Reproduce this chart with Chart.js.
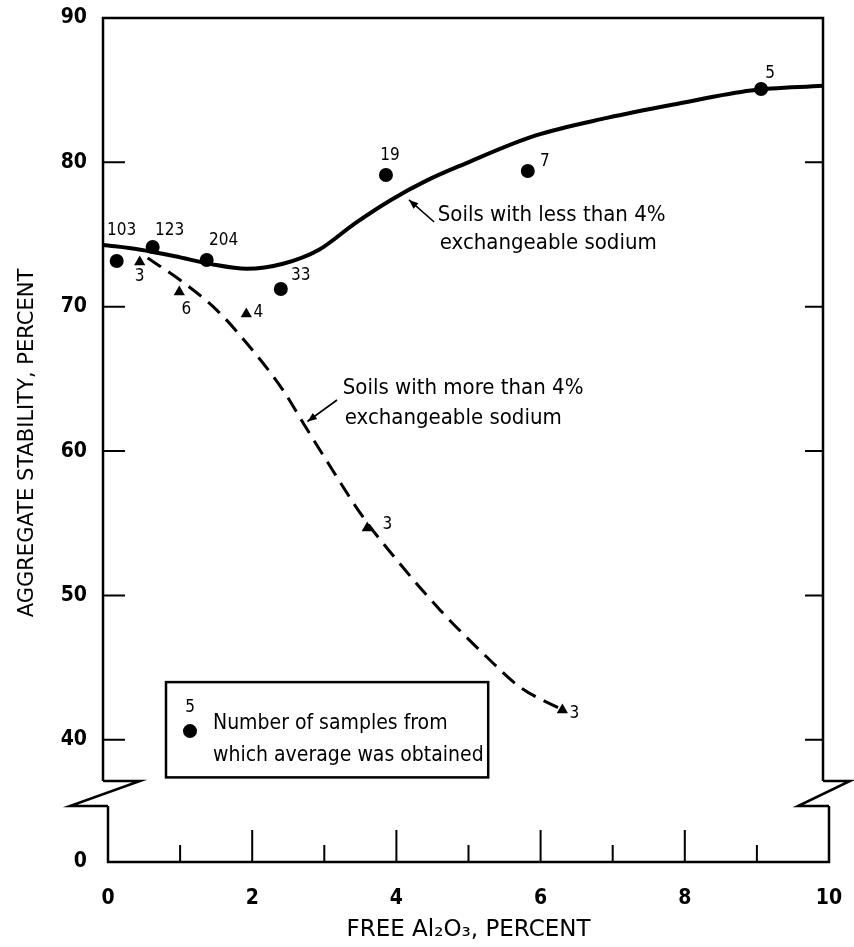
<!DOCTYPE html>
<html><head><meta charset="utf-8">
<script src="https://cdn.jsdelivr.net/npm/chart.js@4.4.1/dist/chart.umd.min.js"></script>
<style>
html,body{margin:0;padding:0;background:#fff;}
#wrap{position:relative;width:854px;height:947px;overflow:hidden;background:#fff;}
#top{position:absolute;left:0;top:0;}
#bot{position:absolute;left:0;top:790px;}
</style></head><body>
<div id="wrap">
<canvas id="top" width="854" height="820"></canvas>
<canvas id="bot" width="854" height="157"></canvas>
</div>
<script>
// ---- data ----
const lowNaX = [0.19, 0.69, 1.44, 2.47, 3.93, 5.9, 9.14];
const lowNaY = [73.17, 74.14, 73.24, 71.23, 79.13, 79.4, 85.08];
const lowNaN = [103, 123, 204, 33, 19, 7, 5];
const highNaX = [0.51, 1.06, 1.99, 3.67, 6.38];
const highNaY = [73.1, 71.02, 69.5, 54.67, 42.07];
const highNaN = [3, 6, 4, 3, 3];
const lowCurveX = [0, 0.5, 1, 1.5, 2, 2.5, 3, 3.5, 4, 4.5, 5, 6, 7, 8, 9, 10];
const lowCurveY = [74.28, 73.97, 73.5, 72.95, 72.63, 72.98, 73.95, 75.78, 77.4, 78.75, 79.85, 81.85, 83.08, 84.08, 84.98, 85.3];
const highCurveX = [0.62, 1.07, 1.58, 2.04, 2.5, 2.78, 3.06, 3.61, 4.08, 4.68, 5.33, 5.79, 6.38];
const highCurveY = [73.38, 71.85, 69.77, 67.21, 64.23, 61.95, 59.7, 55.44, 52.46, 49.0, 45.74, 43.66, 42.07];
const yTicks = [40, 50, 60, 70, 80, 90];
const xTicks = [0, 2, 4, 6, 8, 10];
const xMinorTicks = [1, 3, 5, 7, 9];
const xMajorInner = [2, 4, 6, 8];
const lowerYTicks = [0];
const yRange = [37.15, 90];
const xRange = [0, 10];

// ---- styles / label placement (pixel offsets from marker) ----
const lowLabelOff = [[5,-30],[17,-16],[17,-19],[20,-13],[4,-19],[17,-9],[9,-15]];
const highLabelOff = [[0,15],[7,18],[12,-1],[20,-3],[12,4]];
const COND = 'DejaVu Sans Condensed';
const pts = (xs, ys) => xs.map((x, i) => ({x, y: ys[i]}));
const noPad = s => { s.paddingTop = 0; s.paddingBottom = 0; s.paddingLeft = 0; s.paddingRight = 0; };

function arrow(ctx, x1, y1, x2, y2) {
  ctx.beginPath(); ctx.moveTo(x1, y1); ctx.lineTo(x2, y2); ctx.lineWidth = 1.6; ctx.stroke();
  const ang = Math.atan2(y2 - y1, x2 - x1), L = 10, W = 0.38;
  ctx.beginPath();
  ctx.moveTo(x2, y2);
  ctx.lineTo(x2 - L * Math.cos(ang - W), y2 - L * Math.sin(ang - W));
  ctx.lineTo(x2 - L * Math.cos(ang + W), y2 - L * Math.sin(ang + W));
  ctx.closePath(); ctx.fill();
}

const topDecor = {
  id: 'topDecor',
  afterDraw(chart) {
    const {ctx, chartArea: a, scales: {x, y}} = chart;
    ctx.save();
    ctx.strokeStyle = '#000'; ctx.fillStyle = '#000';
    ctx.lineWidth = 2.5; ctx.lineJoin = 'miter';
    // frame
    ctx.beginPath();
    ctx.moveTo(a.left, a.bottom); ctx.lineTo(a.left, a.top);
    ctx.lineTo(a.right, a.top); ctx.lineTo(a.right, a.bottom);
    ctx.stroke();
    // inward ticks
    ctx.beginPath();
    yTicks.filter(v => v < 90).forEach(v => {
      const py = y.getPixelForValue(v);
      ctx.moveTo(a.left, py); ctx.lineTo(a.left + 22, py);
      ctx.moveTo(a.right, py); ctx.lineTo(a.right - 18, py);
    });
    ctx.lineWidth = 2; ctx.stroke();
    // axis break zigzags
    ctx.lineWidth = 2.5;
    ctx.beginPath();
    ctx.moveTo(a.left, a.bottom); ctx.lineTo(a.left + 37, a.bottom);
    ctx.lineTo(a.left - 33, a.bottom + 25); ctx.lineTo(a.left + 5, a.bottom + 25);
    ctx.moveTo(a.right, a.bottom); ctx.lineTo(a.right + 27, a.bottom);
    ctx.lineTo(a.right - 25, a.bottom + 25); ctx.lineTo(a.right + 6, a.bottom + 25);
    ctx.stroke();
    // sample counts
    ctx.font = '17px "' + COND + '"';
    ctx.textAlign = 'center'; ctx.textBaseline = 'middle';
    chart.getDatasetMeta(0).data.forEach((el, i) => {
      ctx.fillText(String(lowNaN[i]), el.x + lowLabelOff[i][0], el.y + lowLabelOff[i][1]);
    });
    chart.getDatasetMeta(1).data.forEach((el, i) => {
      ctx.fillText(String(highNaN[i]), el.x + highLabelOff[i][0], el.y + highLabelOff[i][1]);
    });
    // curve annotations
    ctx.font = '22px "' + COND + '"';
    ctx.textAlign = 'left';
    const t1x = x.getPixelForValue(4.65), t1y = y.getPixelForValue(76.35);
    ctx.fillText('Soils with less than 4%', t1x, t1y);
    ctx.fillText('exchangeable sodium', t1x + 2, t1y + 28);
    arrow(ctx, x.getPixelForValue(4.6), y.getPixelForValue(75.87), x.getPixelForValue(4.25), y.getPixelForValue(77.4));
    const t2x = x.getPixelForValue(3.33), t2y = y.getPixelForValue(64.37);
    ctx.fillText('Soils with more than 4%', t2x, t2y);
    ctx.fillText('exchangeable sodium', t2x + 2, t2y + 30);
    arrow(ctx, x.getPixelForValue(3.25), y.getPixelForValue(63.54), x.getPixelForValue(2.84), y.getPixelForValue(62.05));
    // key box
    const bx1 = x.getPixelForValue(0.875), bx2 = x.getPixelForValue(5.35);
    const by1 = y.getPixelForValue(44.0), by2 = y.getPixelForValue(37.4);
    ctx.lineWidth = 2.5;
    ctx.strokeRect(bx1, by1, bx2 - bx1, by2 - by1);
    ctx.beginPath(); ctx.arc(bx1 + 24, by1 + 49, 7, 0, Math.PI * 2); ctx.fill();
    ctx.font = '17px "' + COND + '"'; ctx.textAlign = 'center';
    ctx.fillText('5', bx1 + 24, by1 + 25);
    ctx.font = '21px "' + COND + '"'; ctx.textAlign = 'left';
    ctx.fillText('Number of samples from', bx1 + 47, by1 + 41);
    ctx.fillText('which average was obtained', bx1 + 47, by1 + 73);
    // y axis title
    ctx.save();
    ctx.translate(28, 443); ctx.rotate(-Math.PI / 2);
    ctx.font = '21px "DejaVu Sans"'; ctx.textAlign = 'center'; ctx.textBaseline = 'middle';
    ctx.fillText('AGGREGATE STABILITY, PERCENT', 0, 0);
    ctx.restore();
    ctx.restore();
  }
};

const tickFont = {family: COND, size: 21, weight: 'bold'};

new Chart(document.getElementById('top'), {
  type: 'scatter',
  data: {
    datasets: [
      {label: 'Less than 4% (points)', data: pts(lowNaX, lowNaY), pointStyle: 'circle', pointRadius: 7,
       backgroundColor: '#000', borderColor: '#000', borderWidth: 0},
      {label: 'More than 4% (points)', data: pts(highNaX, highNaY), pointStyle: 'triangle', pointRadius: 6.5,
       backgroundColor: '#000', borderColor: '#000', borderWidth: 0},
      {label: 'Soils with less than 4% exchangeable sodium', data: pts(lowCurveX, lowCurveY), showLine: true,
       pointRadius: 0, borderColor: '#000', borderWidth: 4, cubicInterpolationMode: 'monotone', fill: false},
      {label: 'Soils with more than 4% exchangeable sodium', data: pts(highCurveX, highCurveY), showLine: true,
       pointRadius: 0, borderColor: '#000', borderWidth: 3, borderDash: [16, 9], cubicInterpolationMode: 'monotone', fill: false}
    ]
  },
  options: {
    responsive: false, animation: false, devicePixelRatio: 1,
    layout: {padding: {left: 0, right: 31, top: 18, bottom: 39}},
    plugins: {legend: {display: false}, tooltip: {enabled: false}},
    scales: {
      x: {type: 'linear', min: xRange[0], max: xRange[1], display: false},
      y: {type: 'linear', min: yRange[0], max: yRange[1],
          afterFit(s) { s.width = 103; noPad(s); },
          afterBuildTicks(s) { s.ticks = yTicks.map(v => ({value: v})); },
          grid: {display: false, drawTicks: false}, border: {display: false},
          ticks: {padding: 16, color: '#000', font: tickFont}}
    }
  },
  plugins: [topDecor]
});

const botDecor = {
  id: 'botDecor',
  afterDraw(chart) {
    const {ctx, chartArea: a, scales: {x}} = chart;
    ctx.save();
    ctx.strokeStyle = '#000'; ctx.lineWidth = 2.5;
    ctx.beginPath();
    ctx.moveTo(a.left, a.top); ctx.lineTo(a.left, a.bottom);
    ctx.lineTo(a.right, a.bottom); ctx.lineTo(a.right, a.top);
    ctx.stroke();
    ctx.lineWidth = 2;
    ctx.beginPath();
    xMajorInner.forEach(v => { const px = x.getPixelForValue(v); ctx.moveTo(px, a.bottom); ctx.lineTo(px, a.bottom - 32); });
    xMinorTicks.forEach(v => { const px = x.getPixelForValue(v); ctx.moveTo(px, a.bottom); ctx.lineTo(px, a.bottom - 17); });
    ctx.stroke();
    ctx.restore();
  }
};

new Chart(document.getElementById('bot'), {
  type: 'scatter',
  data: {datasets: [{label: 'axis', data: [], pointRadius: 0}]},
  options: {
    responsive: false, animation: false, devicePixelRatio: 1,
    layout: {padding: {left: 0, right: 25, top: 16, bottom: 0}},
    plugins: {legend: {display: false}, tooltip: {enabled: false}},
    scales: {
      x: {type: 'linear', min: xRange[0], max: xRange[1],
          afterFit(s) { s.height = 85; noPad(s); },
          afterBuildTicks(s) { s.ticks = xTicks.map(v => ({value: v})); },
          grid: {display: false, drawTicks: false}, border: {display: false},
          ticks: {padding: 24, color: '#000', font: tickFont, maxRotation: 0},
          title: {display: true, text: 'FREE Al₂O₃, PERCENT', color: '#000',
                  font: {family: 'DejaVu Sans', size: 23}, padding: {top: 0, bottom: 3}}},
      y: {type: 'linear', min: 0, max: 1,
          afterFit(s) { s.width = 108; noPad(s); },
          afterBuildTicks(s) { s.ticks = lowerYTicks.map(v => ({value: v})); },
          grid: {display: false, drawTicks: false}, border: {display: false},
          ticks: {padding: 21, color: '#000', font: tickFont}}
    }
  },
  plugins: [botDecor]
});
</script>
</body></html>
